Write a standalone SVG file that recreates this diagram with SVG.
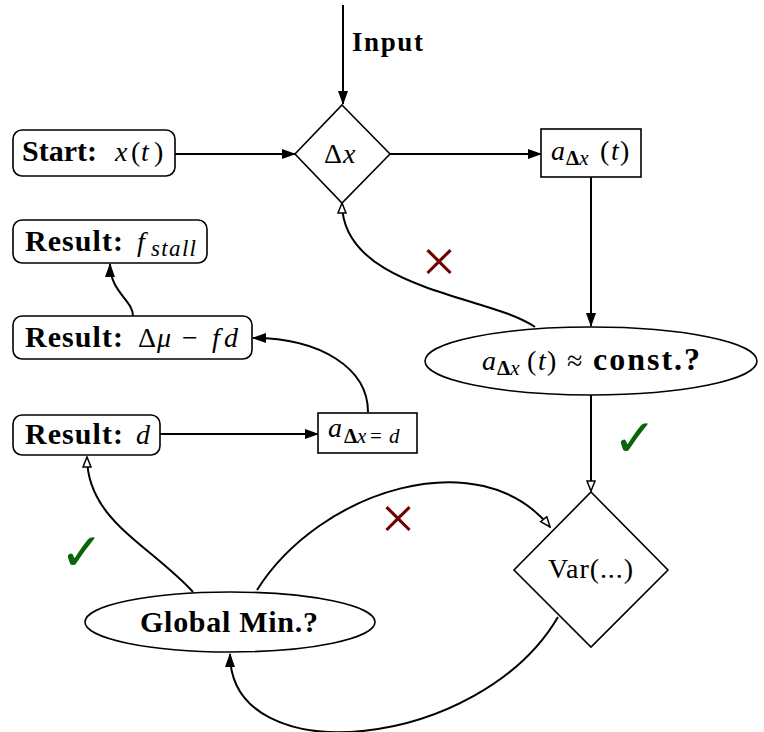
<svg xmlns="http://www.w3.org/2000/svg" width="764" height="732" viewBox="0 0 764 732">
<style>
.node{fill:#fff;stroke:#000;stroke-width:1.6}
.edge{fill:none;stroke:#000;stroke-width:2}
text{font-family:"Liberation Serif","Times New Roman",serif;font-size:28px;fill:#000}
.b{font-weight:bold;font-size:30px}
.i{font-style:italic}
.s{font-size:21px}
.ok{fill:#0a640a;font-family:"DejaVu Sans",sans-serif;font-size:52px}
.no{fill:#6e0000;font-size:62px}
</style>
<defs>
<marker id="fa" viewBox="0 0 14 10" refX="13" refY="5" markerWidth="14" markerHeight="10" markerUnits="userSpaceOnUse" orient="auto">
<path d="M0,0 L14,5 L0,10 Z" fill="#000"/>
</marker>
<marker id="oa" viewBox="0 0 12 10" refX="11" refY="5" markerWidth="12" markerHeight="10" markerUnits="userSpaceOnUse" orient="auto">
<path d="M1,1 L11,5 L1,9 Z" fill="#fff" stroke="#000" stroke-width="1.5"/>
</marker>
</defs>
<g id="connectors">
<path class="edge" d="M343,5 L343,104" marker-end="url(#fa)"/>
<path class="edge" d="M175,154 L295,154" marker-end="url(#fa)"/>
<path class="edge" d="M390,154 L541,154" marker-end="url(#fa)"/>
<path class="edge" d="M591,177 L591,326" marker-end="url(#fa)"/>
<path class="edge" d="M591,395 L591,491" marker-end="url(#oa)"/>
<path class="edge" d="M535,327 C490,295 342,290 342,203" marker-end="url(#oa)"/>
<path class="edge" d="M133,316 C133,300 110,292 110,264" marker-end="url(#fa)"/>
<path class="edge" d="M368,412 C368,368 320,338 253,338" marker-end="url(#fa)"/>
<path class="edge" d="M160,434 L318,434" marker-end="url(#fa)"/>
<path class="edge" d="M193,592 C150,545 87,520 87,457" marker-end="url(#oa)"/>
<path class="edge" d="M257,590 C320,490 480,440 550,527" marker-end="url(#oa)"/>
<path class="edge" d="M558,617 C480,750 230,775 230,654" marker-end="url(#fa)"/>
<text class="b" x="352" y="51" style="font-size:27px" textLength="71">Input</text>
<text class="ok" x="613" y="456">✓</text>
<text class="ok" x="60" y="570">✓</text>
<text class="no" x="439" y="282" text-anchor="middle">×</text>
<text class="no" x="398" y="539" text-anchor="middle">×</text>
</g>
<g id="start">
<rect class="node" x="13" y="130" width="162" height="46" rx="9"/>
<text class="b" x="22" y="161" textLength="75">Start:</text>
<text x="115 131 141 154" y="161"><tspan class="i">x</tspan>(<tspan class="i">t</tspan>)</text>
</g>
<g id="dx">
<polygon class="node" points="342,105 390,154 342,203 295,154"/>
<text x="324 343" y="163">Δ<tspan class="i">x</tspan></text>
</g>
<g id="adx">
<rect class="node" x="541" y="129" width="100" height="48"/>
<text class="i" x="551" y="160">a</text>
<text class="s" x="566" y="165"><tspan class="b" style="font-size:21px">Δ</tspan><tspan class="i">x</tspan></text>
<text x="600 611 620" y="160">(<tspan class="i">t</tspan>)</text>
</g>
<g id="const">
<ellipse class="node" cx="591" cy="361" rx="166" ry="34"/>
<text class="i" x="482" y="370">a</text>
<text class="s" x="497" y="375"><tspan class="b" style="font-size:21px">Δ</tspan><tspan class="i">x</tspan></text>
<text x="527 538 547" y="370">(<tspan class="i">t</tspan>)</text>
<text x="567" y="370">≈</text>
<text class="b" x="593" y="370" style="font-size:32px" textLength="107">const.?</text>
</g>
<g id="var">
<polygon class="node" points="591,492 668,570 591,647 514,570"/>
<text x="548" y="578" textLength="85">Var(...)</text>
</g>
<g id="globalmin">
<ellipse class="node" cx="230" cy="622" rx="145" ry="30"/>
<text class="b" x="140" y="632" textLength="178">Global Min.?</text>
</g>
<g id="fstall">
<rect class="node" x="13" y="220" width="194" height="43" rx="9"/>
<text class="b" x="25" y="251" textLength="98">Result:</text>
<text class="i" x="137" y="251">f</text>
<text class="i s" x="151" y="256" style="font-size:23px" textLength="45">stall</text>
</g>
<g id="dmu">
<rect class="node" x="13" y="316" width="239" height="43" rx="9"/>
<text class="b" x="25" y="347" textLength="98">Result:</text>
<text x="138 157 182 212 224" y="347">Δ<tspan class="i">μ</tspan>−<tspan class="i">fd</tspan></text>
</g>
<g id="resd">
<rect class="node" x="13" y="415" width="147" height="40" rx="9"/>
<text class="b" x="25" y="444" textLength="98">Result:</text>
<text class="i" x="136" y="444">d</text>
</g>
<g id="adxd">
<rect class="node" x="318" y="413" width="99" height="40"/>
<text class="i" x="328" y="437">a</text>
<text class="s" x="344 357 370 389" y="443"><tspan class="b" style="font-size:21px">Δ</tspan><tspan class="i">x</tspan>=<tspan class="i">d</tspan></text>
</g>
</svg>
